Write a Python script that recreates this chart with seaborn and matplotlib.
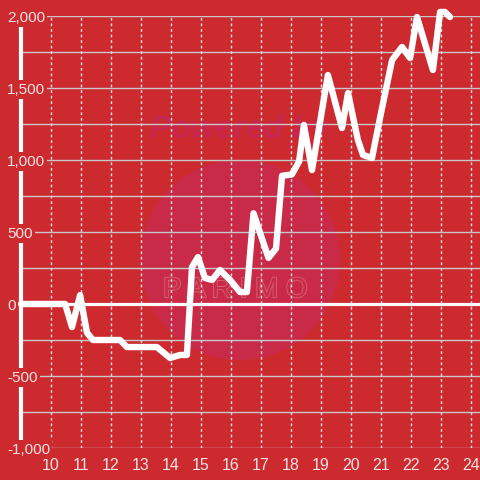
import matplotlib
matplotlib.use("Agg")
import matplotlib.pyplot as plt
import matplotlib.patheffects as pe
from matplotlib.patches import Circle
import pandas as pd
import seaborn as sns

# values
hours = [9, 10.47, 10.7, 10.97, 11.2, 11.4, 12.3, 12.53, 13.53, 13.97, 14.3,
         14.53, 14.7, 14.9, 15.13, 15.37, 15.63, 15.97, 16.3, 16.53, 16.75,
         17.25, 17.5, 17.7, 18.03, 18.27, 18.43, 18.7, 19.23, 19.7, 19.9,
         20.23, 20.4, 20.7, 21.0, 21.37, 21.7, 21.97, 22.2, 22.73, 22.97,
         23.13, 23.3]
balance = [0, 0, -160, 62, -200, -250, -250, -299, -299, -375, -354,
           -354, 257, 326, 181, 167, 236, 167, 83, 83, 630,
           320, 385, 890, 900, 990, 1243, 930, 1590, 1222, 1465,
           1139, 1035, 1014, 1326, 1694, 1785, 1708, 1993, 1625, 2028,
           2028, 1993]
x_ticks = list(range(10, 25))
y_ticks = [-1000, -500, 0, 500, 1000, 1500, 2000]
y_minor = [-750, -250, 250, 750, 1250, 1750]

BG = "#cd2a30"
LABEL = "#f3e4e4"

df = pd.DataFrame({"hour": hours, "balance": balance})

sns.set_style("white")
plt.rcParams["font.family"] = ["Liberation Sans", "DejaVu Sans"]

fig = plt.figure(figsize=(4.8, 4.8), dpi=100, facecolor=BG)
ax = fig.add_axes([21 / 480, 32 / 480, 459 / 480, 432 / 480])
ax.set_facecolor("none")

# watermark
fig.patches.append(Circle((0.5, 1 - 260 / 480), 100 / 480, transform=fig.transFigure,
                          facecolor="#c92a48", edgecolor="none", zorder=-2))
fig.text(0.5, 1 - 130 / 480, "Powered by", ha="center", va="center", fontsize=23,
         fontstyle="italic", fontweight="bold", color="#c72750", zorder=-1)
fig.text(0.49, 1 - 290 / 480, "P A R I M O", ha="center", va="center", fontsize=20,
         color="#c92a48", zorder=-1,
         path_effects=[pe.withStroke(linewidth=1.5, foreground="#d65a6a")])

# grid
for v in y_ticks + y_minor:
    ax.axhline(v, color="#c8c8c8", lw=1, zorder=1)
for v in x_ticks:
    ax.axvline(v, color="#f0e0e0", lw=1, ls=(0, (2, 2)), zorder=1)
ax.axhline(0, color="white", lw=2.3, zorder=2)

sns.lineplot(data=df, x="hour", y="balance", ax=ax, color="white", lw=4.6,
             zorder=3, clip_on=False)

ax.set_xlim(9, 24.3)
ax.set_ylim(-1000, 2000)
ax.set_xlabel("")
ax.set_ylabel("")

for s in ["top", "right", "bottom"]:
    ax.spines[s].set_visible(False)
ax.spines["left"].set_color("white")
ax.spines["left"].set_linewidth(3)
ax.spines["left"].set_zorder(2)

ax.set_xticks(x_ticks)
ax.set_xticklabels([str(t) for t in x_ticks], fontsize=11.5, color=LABEL)
ax.set_yticks(y_ticks)
ax.set_yticklabels([f"{t:,}" for t in y_ticks], fontsize=11, color=LABEL)
ax.tick_params(axis="x", length=0, pad=7)
ax.tick_params(axis="y", length=0, pad=10)
ax.yaxis.set_zorder(6)
for lab in ax.get_yticklabels():
    lab.set_horizontalalignment("left")
    lab.set_bbox(dict(facecolor=BG, edgecolor="none", pad=1.5))

fig.savefig("out.png", dpi=100, facecolor=BG)
